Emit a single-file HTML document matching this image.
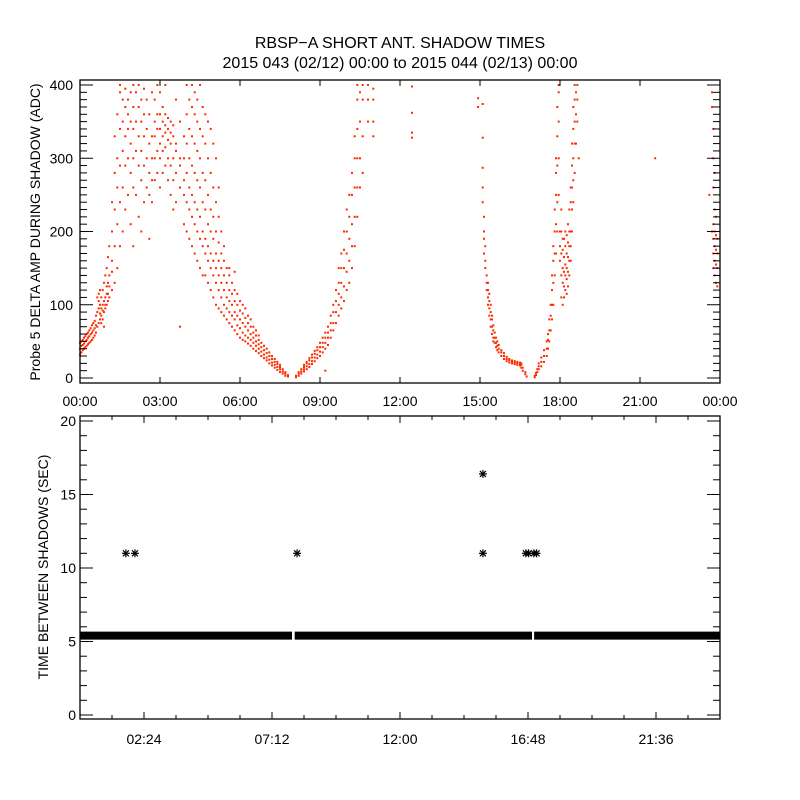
<!DOCTYPE html>
<html><head><meta charset="utf-8"><style>
html,body{margin:0;padding:0;background:#fff;}
svg{display:block;font-family:"Liberation Sans",sans-serif;}
</style></head><body>
<svg id="chart" width="800" height="800" viewBox="0 0 800 800">
<rect width="800" height="800" fill="#fff"/>
<text x="400" y="48" text-anchor="middle" font-size="16">RBSP−A SHORT ANT. SHADOW TIMES</text>
<text x="400" y="68" text-anchor="middle" font-size="16">2015 043 (02/12) 00:00 to 2015 044 (02/13) 00:00</text>
<g id="topPanel"></g>
<g id="botPanel"></g>
<text transform="translate(40,232) rotate(-90)" text-anchor="middle" font-size="14">Probe 5 DELTA AMP DURING SHADOW (ADC)</text>
<text transform="translate(48,567) rotate(-90)" text-anchor="middle" font-size="14">TIME BETWEEN SHADOWS (SEC)</text>
</svg>
<script>
// ---- top panel data (hours) ----
const scatterTimes = [0.00,0.05,0.10,0.15,0.20,0.25,0.30,0.35,0.40,0.45,0.50,0.55,0.60,0.65,0.70,0.75,0.80,0.85,0.90,0.95,1.00,1.05,1.10,
1.2,1.3,1.4,1.5,1.6,1.7,1.8,1.9,2.0,2.1,2.2,2.3,2.4,2.5,2.6,2.7,2.8,2.9,3.0,3.1,3.2,3.3,3.4,3.5,3.6,3.75,3.9,
4.0,4.1,4.2,4.3,4.4,4.5,4.6,4.7,4.8,4.9,5.0,5.1,5.2,5.3,5.4,5.5,5.6,5.7,5.8,5.9,6.0,6.1,6.2,6.3,6.4,6.5,6.6,6.7,6.8,6.9,7.0,7.1,7.2,7.3,7.4,7.5,7.6,7.7,7.8,
8.1,8.2,8.3,8.4,8.5,8.6,8.7,8.8,8.9,9.0,9.1,9.2,9.3,9.4,9.5,9.6,9.7,9.8,9.9,10.0,10.1,10.2,10.3,10.4,10.5,10.6,10.8,11.0,
12.45,14.93,15.1,15.15,15.2,15.25,15.3,15.35,15.4,15.45,15.5,15.55,15.6,15.65,15.7,15.8,15.9,16.0,16.1,16.2,16.3,16.4,16.5,16.55,16.6,16.7,16.75,
17.05,17.1,17.15,17.2,17.3,17.4,17.5,17.55,17.6,17.65,17.7,17.75,17.8,17.85,17.9,17.95,18.0,18.05,18.1,18.15,18.2,18.25,18.3,18.35,18.4,18.45,18.5,18.55,18.6,18.65,18.7,
21.57,23.6,23.7,23.75,23.8,23.85,23.9];
const scatterValues = [[32,40,48],[35,44,50],[38,45,52],[40,47,55],[42,50,57],[44,52,60],[46,55,62],[48,57,65],[50,60,68],[52,62,72],[55,65,75],[58,68,78],[62,72,85],[70,90,110],[75,95,115,105],[80,100,88,120],[85,95,110,75],[80,100,120,92],[90,105,130,70],[95,110,140,100],[100,115,150,125],[105,130,165,115],[110,140,180,125],
[120,160,200,240,145],[130,180,230,280,330],[150,210,260,300,360],[180,240,290,340,390,400],[200,260,310,350,380],[230,290,330,370,395],[250,300,340,380,360],[210,280,320,350,390],[180,260,300,340,370,400],[250,310,350,390],[220,290,330,370,400],[200,270,310,350,380],[240,290,330,360,395],[260,300,340,380],[190,250,280,320,360],[240,270,300,330,390],[270,300,330,350,380],[280,310,340,360,400],[260,300,320,340,360,390],[280,310,330,350,370],[290,315,335,345,360,400],[270,300,325,340,355],[250,290,320,335,350],[230,270,300,330,345],[240,280,310,320,380],[70,260,290,300,350],[210,250,270,300,330],
[200,240,280,320,360,400],[190,230,260,300,340,380],[180,220,250,290,330,370,400],[170,210,240,280,320,360,390],[160,200,230,270,310,350,380],[150,190,220,260,300,340,400],[140,180,200,240,280,330,370],[140,170,190,230,270,320,360],[130,160,180,210,250,300,350],[120,150,170,200,230,280,340],[110,140,160,190,220,260,320],[100,130,150,170,200,240,300],[95,120,140,160,185,220,260],[90,110,130,150,170,200],[85,100,120,140,160,180],[80,95,110,130,150],[75,90,105,120,140,150],[70,85,100,115,130],[65,80,90,105,120,145],[60,72,85,100,115],[55,68,80,92,105],[52,62,75,88,100],[50,58,70,82,95],[47,55,65,75,85],[44,52,60,70,80],[40,48,55,62,70],[37,44,50,58,65],[34,40,46,52,58],[30,36,42,48],[27,32,38,44],[24,28,34,40],[20,25,30,35],[17,21,26,30],[14,18,22,26],[11,15,19,22],[8,12,15,18],[6,9,12],[3,6,8],[2,4],
[1,3],[3,6,8],[6,9,12],[9,12,15,18],[12,16,20,22],[15,19,24,27],[19,23,28,32],[23,28,33,37],[27,32,38,42],[30,36,42,48],[35,42,48,55],[40,48,55,62,10],[45,55,62,70],[55,65,75,85],[65,75,90,100],[75,90,105,120],[85,100,115,130,150],[95,110,130,150,170],[105,125,150,175,200],[120,145,170,200,230],[130,160,190,220,250],[150,180,210,250,280],[180,220,260,300,330],[220,260,300,340,380,400],[260,300,350,390],[280,330,380,400],[350,380,400],[330,350,380,395],
[398,362,335,328],[382,370],[374,328,287,260,240],[220,200,190,170],[160,180,150],[140,130,120],[110,120,100,130],[95,105,85,115],[80,90,100,70],[70,80,60,85],[55,65,72,50],[48,55,62],[42,48,55],[38,44,50],[35,40,45],[30,35,38],[26,30,34],[23,26,29],[21,24,26],[20,22,24],[19,21,23],[18,20,22],[17,19,21],[14,18,20],[10,14],[5,8],[2],
[1,3],[4,7],[8,12],[12,16,20],[16,22,28],[22,30,38],[30,40,50],[40,52,60],[50,65,80],[65,85,100],[80,100,120,140],[100,130,160,180],[140,170,200,230],[170,210,250,280,300],[200,240,290,330,370],[250,300,350,400,390],[160,180,200],[110,140,170,200,230],[100,130,150,175,190],[110,125,145,165,190],[120,140,155,180,200],[115,135,150,170,195],[125,145,165,185,210],[140,160,180,200,230],[160,180,200,240,260],[200,230,260,290,320],[240,270,300,340,370],[280,320,350,380,400],[320,360,390],[350,380,400],[300],
[300],[250],[200,390,370],[150,170,190,210,260,300,340],[140,160,180,200,230,280],[130,155,175,195,220],[125,150,170,190]];
const topXTickLabels = ["00:00","03:00","06:00","09:00","12:00","15:00","18:00","21:00","00:00"];
const topYTickLabels = [0,100,200,300,400];
// ---- bottom panel data ----
const bandStarts = [0, 8.05, 17.03];
const bandEnds = [7.95, 16.95, 24];
const bandValue = [5.4];
const starTimes = [1.72, 2.06, 8.14, 15.11, 15.11, 16.72, 16.82, 17.02, 17.12];
const starValues = [11, 11, 11, 11, 16.4, 11, 11, 11, 11];
const botXTickLabels = ["02:24","07:12","12:00","16:48","21:36"];
const botXTickHours = [2.4, 7.2, 12.0, 16.8, 21.6];
const botYTickLabels = [0,5,10,15,20];

const NS = "http://www.w3.org/2000/svg";
function mk(tag, attrs, parent){const e=document.createElementNS(NS,tag);for(const k in attrs)e.setAttribute(k,attrs[k]);parent.appendChild(e);return e;}
const L=80,R=720;
const tx=h=>L+h/24*(R-L);
const ty=v=>378-v*(293/400);
const bx=h=>L+h/24*(R-L);
const by=v=>715-v*(294/20);

// top panel
const topG=document.getElementById('topPanel');
const pts=mk('g',{},topG);


scatterTimes.forEach((h,i)=>{(scatterValues[i]||[]).forEach(v=>{
  const r=mk('rect',{x:(tx(h)-1).toFixed(1),y:(ty(v)-1).toFixed(1),width:2,height:2,fill:'#ff2a00'},pts);
  
  
});});
const tf=mk('rect',{x:L,y:80,width:R-L,height:303,fill:'none',stroke:'#000','stroke-width':1.3},topG);


for(let v=0;v<=400;v+=10){const len=(v%100===0)?13:7;
  mk('line',{x1:L,x2:L+len,y1:ty(v),y2:ty(v),stroke:'#000'},topG);
  mk('line',{x1:R,x2:R-len,y1:ty(v),y2:ty(v),stroke:'#000'},topG);}
topYTickLabels.forEach(v=>{const t=mk('text',{x:73,y:ty(v)+5,'text-anchor':'end','font-size':14},topG);t.textContent=v;
  
  });
topXTickLabels.forEach((s,i)=>{const x=tx(i*3);
  mk('line',{x1:x,x2:x,y1:383,y2:377,stroke:'#000'},topG);
  mk('line',{x1:x,x2:x,y1:80,y2:86,stroke:'#000'},topG);
  const t=mk('text',{x:x,y:406,'text-anchor':'middle','font-size':14},topG);t.textContent=s;
  
  });

// bottom panel
const botG=document.getElementById('botPanel');
bandStarts.forEach((s,i)=>{const r=mk('rect',{x:bx(s),y:by(bandValue[0])-4,width:bx(bandEnds[i])-bx(s),height:8,fill:'#000'},botG);
  
  });
starTimes.forEach((h,i)=>{const g=mk('g',{stroke:'#000','stroke-width':1.2},botG);
  
  
  const x=bx(h),y=by(starValues[i]),s=4;
  mk('line',{x1:x-s,x2:x+s,y1:y,y2:y},g);mk('line',{x1:x,x2:x,y1:y-s,y2:y+s},g);
  mk('line',{x1:x-3,x2:x+3,y1:y-3,y2:y+3},g);mk('line',{x1:x-3,x2:x+3,y1:y+3,y2:y-3},g);});
const bf=mk('rect',{x:L,y:416,width:R-L,height:303,fill:'none',stroke:'#000','stroke-width':1.3},botG);


for(let v=0;v<=20;v+=1){const len=(v%5===0)?13:7;
  mk('line',{x1:L,x2:L+len,y1:by(v),y2:by(v),stroke:'#000'},botG);
  mk('line',{x1:R,x2:R-len,y1:by(v),y2:by(v),stroke:'#000'},botG);}
botYTickLabels.forEach(v=>{const t=mk('text',{x:76,y:by(v)+5,'text-anchor':'end','font-size':14},botG);t.textContent=v;
  
  });
for(let h=1.2;h<24;h+=1.2){const x=bx(h);
  mk('line',{x1:x,x2:x,y1:719,y2:715,stroke:'#000'},botG);
  mk('line',{x1:x,x2:x,y1:416,y2:420,stroke:'#000'},botG);}
botXTickHours.forEach((h,i)=>{const x=bx(h);
  mk('line',{x1:x,x2:x,y1:719,y2:712,stroke:'#000'},botG);
  mk('line',{x1:x,x2:x,y1:416,y2:423,stroke:'#000'},botG);
  const t=mk('text',{x:x,y:744,'text-anchor':'middle','font-size':14},botG);t.textContent=botXTickLabels[i];
  
  });
</script>
</body></html>
